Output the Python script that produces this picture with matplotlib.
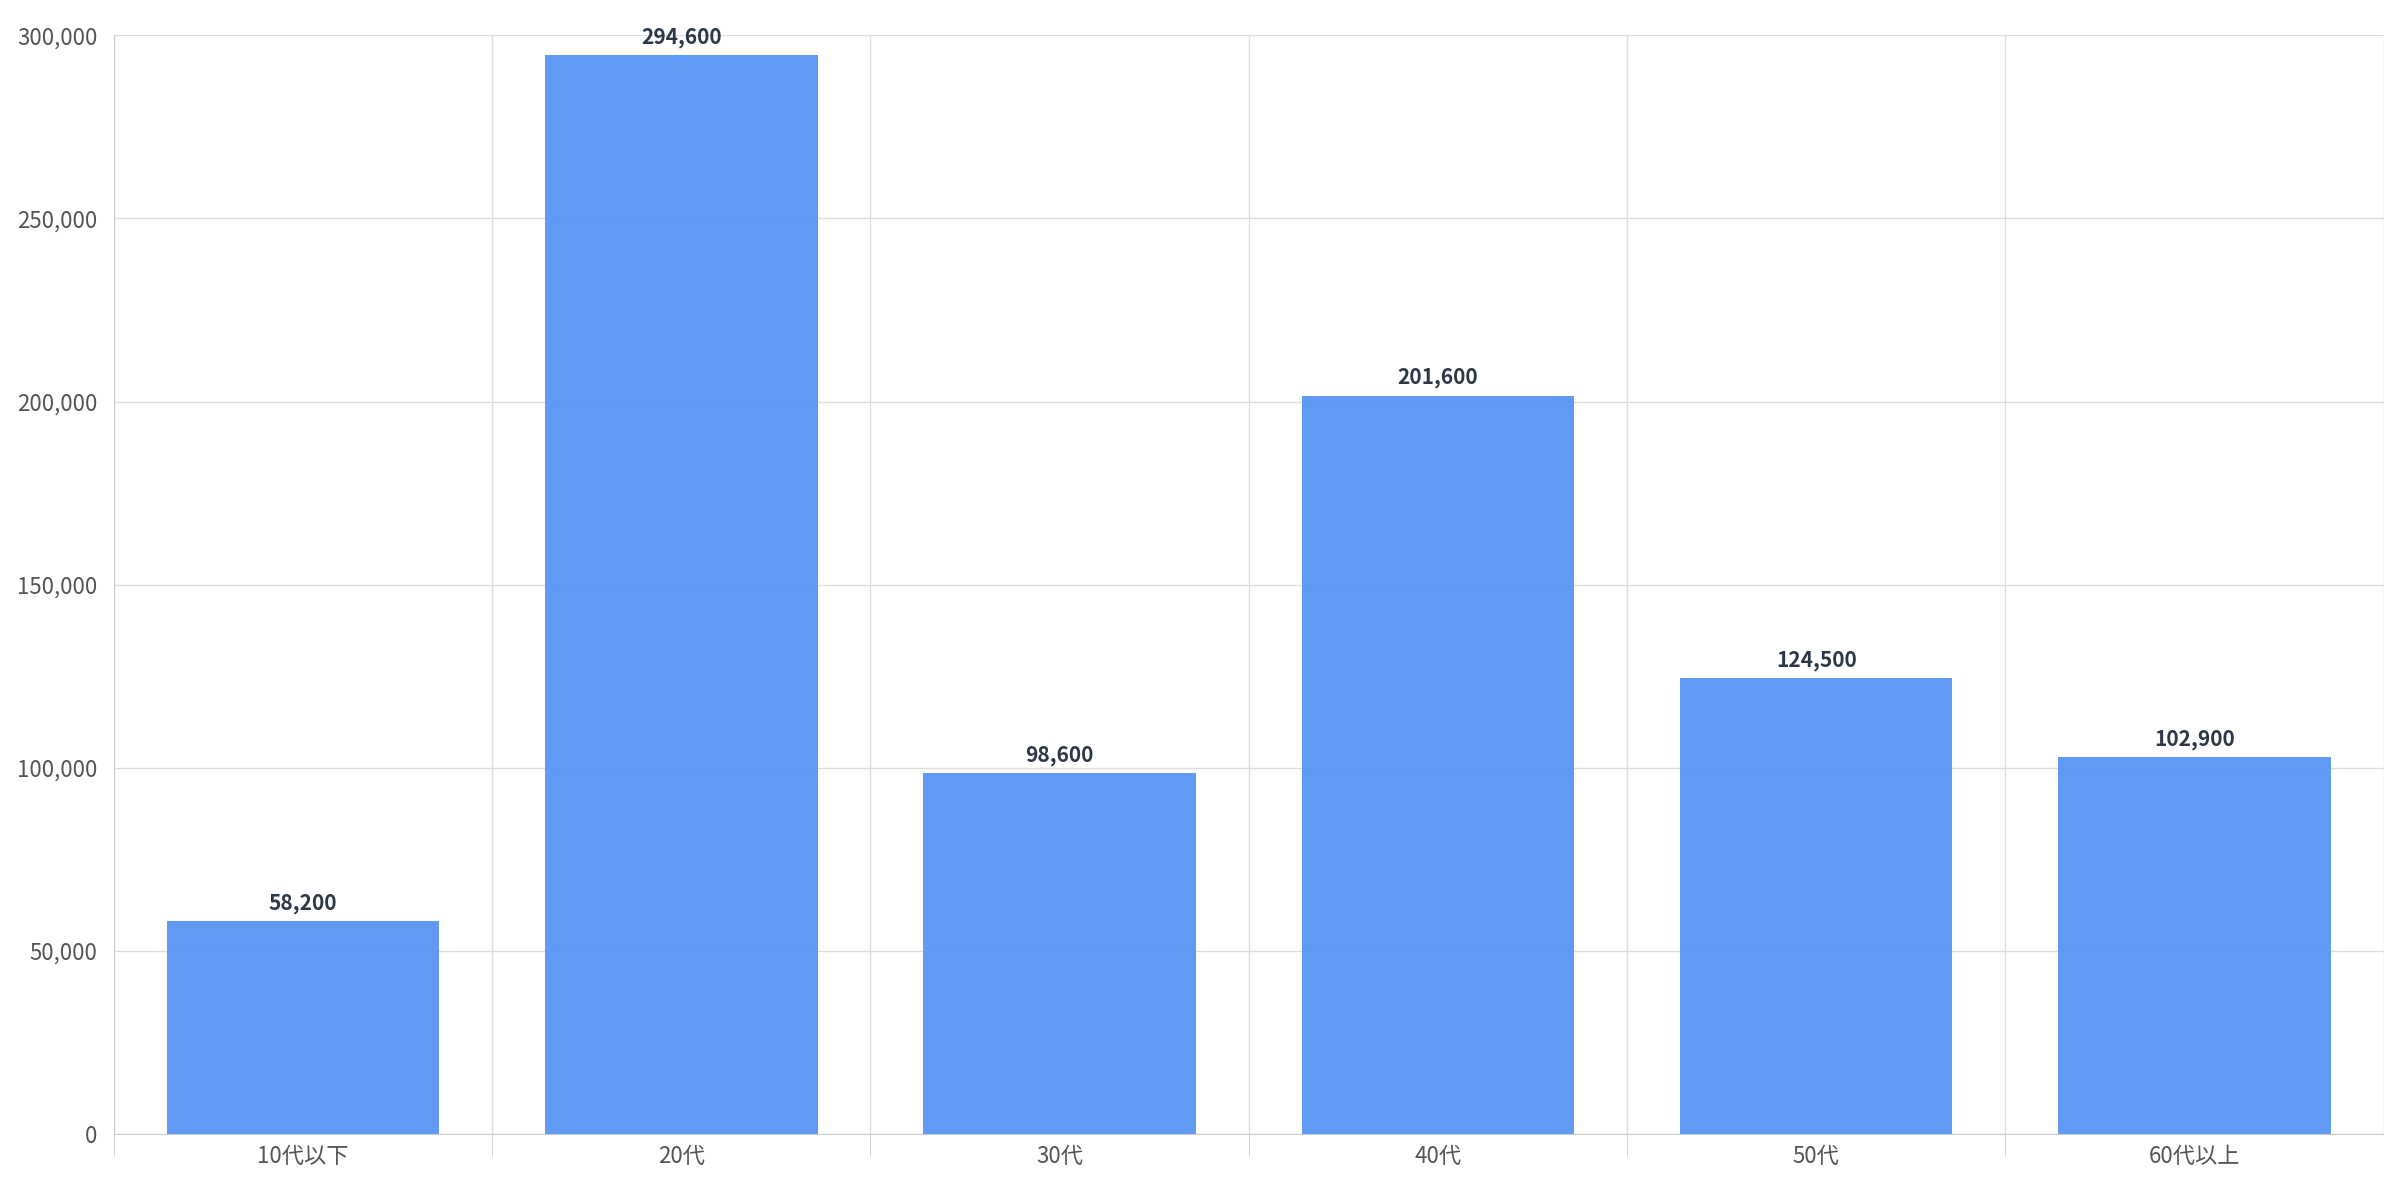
import matplotlib.pyplot as plt
from matplotlib.ticker import FuncFormatter, FixedLocator

plt.rcParams['font.family'] = ['Noto Sans CJK JP', 'DejaVu Sans']

categories = ['10代以下', '20代', '30代', '40代', '50代', '60代以上']
values = [58200, 294600, 98600, 201600, 124500, 102900]

fig = plt.figure(figsize=(23.84, 11.92), dpi=100)
ax = fig.add_axes([0.0478, 0.0485, 0.952, 0.922])

x = range(len(categories))
bars = ax.bar(x, values, width=0.72, color='#5B97F5', alpha=0.97, zorder=2)
for i, v in enumerate(values):
    ax.text(i, v + 2000, f'{v:,}', ha='center', va='bottom',
            fontsize=15, fontweight='bold', color='#2d3748', zorder=3)

ax.set_xlim(-0.5, len(categories) - 0.5)
ax.set_ylim(0, 300000)
ax.set_yticks(range(0, 300001, 50000))
ax.yaxis.set_major_formatter(FuncFormatter(lambda v, p: f'{int(v):,}'))
ax.set_xticks(list(x))
ax.set_xticklabels(categories)
ax.xaxis.set_minor_locator(FixedLocator([i - 0.5 for i in range(len(categories) + 1)]))
ax.tick_params(axis='x', which='major', length=0, labelsize=16, colors='#555555', pad=8)
ax.tick_params(axis='x', which='minor', length=16, color='#cccccc')
ax.tick_params(axis='y', length=0, labelsize=16, colors='#555555', pad=12)
ax.grid(axis='y', color='#dddddd', linewidth=1, zorder=0)
ax.grid(axis='x', which='minor', color='#dddddd', linewidth=1, zorder=0)
for s in ['top', 'right']:
    ax.spines[s].set_visible(False)
for s in ['left', 'bottom']:
    ax.spines[s].set_color('#cccccc')

fig.savefig('out.png', dpi=100)
